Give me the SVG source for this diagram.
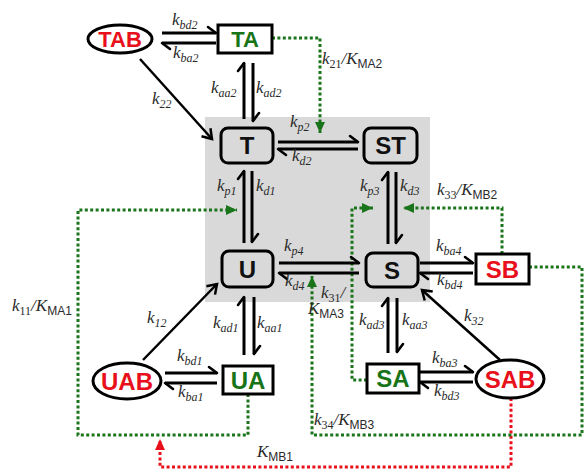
<svg xmlns="http://www.w3.org/2000/svg" width="584" height="472" viewBox="0 0 584 472">
<style>
.nb{fill:#fff;stroke:#000;stroke-width:3}
.gb{fill:#d9d9d9;stroke:#000;stroke-width:3}
.nt{font-family:"Liberation Sans",Arial,sans-serif;font-weight:bold;font-size:24px;text-anchor:middle}
.blk{fill:#111}
.red{fill:#e8101a}
.grn{fill:#177417}
.hp{fill:none;stroke:#000;stroke-width:3;marker-end:url(#harp)}
.ar{fill:none;stroke:#000;stroke-width:2.5;marker-end:url(#open)}
.dg{fill:none;stroke:#1a741a;stroke-width:3;stroke-dasharray:3 2.4;marker-end:url(#tg)}
.dr{fill:none;stroke:#e8101a;stroke-width:3;stroke-dasharray:3 2.4;marker-end:url(#tr)}
.lb{font-family:"Liberation Serif","Times New Roman",serif;font-style:italic;font-size:17px;fill:#2a2a2a}
.sb{font-size:12px}
.up{font-style:normal}
.ss{font-family:"Liberation Sans",Arial,sans-serif;font-style:normal;font-size:12px}
</style>
<defs>
<marker id="harp" markerUnits="userSpaceOnUse" viewBox="0 0 14 14" markerWidth="14" markerHeight="14" refX="11" refY="9" orient="auto">
<path d="M11,9 L3,3" fill="none" stroke="#000" stroke-width="2.6" stroke-linecap="round"/>
</marker>
<marker id="open" markerUnits="userSpaceOnUse" viewBox="0 0 16 16" markerWidth="16" markerHeight="16" refX="12" refY="8" orient="auto">
<path d="M3,2 L12,8 L3,14" fill="none" stroke="#000" stroke-width="2.5" stroke-linejoin="miter"/>
</marker>
<marker id="tg" markerUnits="userSpaceOnUse" viewBox="0 0 12 12" markerWidth="12" markerHeight="12" refX="11" refY="6" orient="auto">
<path d="M11,6 L0,1 L0,11 Z" fill="#1a741a"/>
</marker>
<marker id="tr" markerUnits="userSpaceOnUse" viewBox="0 0 12 12" markerWidth="12" markerHeight="12" refX="11" refY="6" orient="auto">
<path d="M11,6 L0,1 L0,11 Z" fill="#e8101a"/>
</marker>
</defs>

<rect id="region" x="205" y="117" width="225" height="185" fill="#d9d9d9"/>

<g id="connectors">
<path class="dg" d="M272,38 H320 V133"/>
<path class="dg" d="M248,394 V435 H78 V210 H237"/>
<path class="dr" d="M511,398 V467 H160 V439"/>
<path class="dg" d="M502,254 V208 H403"/>
<path class="dg" d="M367,380 H352 V208 H373"/>
<path class="dg" d="M529,267 H582 V435 H312 V276"/>
<path class="hp" d="M162,33 H216"/>
<path class="hp" d="M216,43 H162"/>
<path class="hp" d="M244,119 V63"/>
<path class="hp" d="M253,63 V121"/>
<path class="hp" d="M278,142 H358"/>
<path class="hp" d="M358,149 H278"/>
<path class="hp" d="M244,243 V171"/>
<path class="hp" d="M252,171 V242"/>
<path class="hp" d="M388,244 V172"/>
<path class="hp" d="M396,172 V243"/>
<path class="hp" d="M279,263 H359"/>
<path class="hp" d="M359,273 H279"/>
<path class="hp" d="M420,263 H473"/>
<path class="hp" d="M473,273 H420"/>
<path class="hp" d="M244,355 V297"/>
<path class="hp" d="M254,297 V354"/>
<path class="hp" d="M165,373 H217"/>
<path class="hp" d="M217,383 H165"/>
<path class="hp" d="M388,353 V298"/>
<path class="hp" d="M397,298 V352"/>
<path class="hp" d="M420,372 H473"/>
<path class="hp" d="M473,382 H420"/>
<path class="ar" d="M140,59 L212,139"/>
<path class="ar" d="M143,360 L217,284"/>
<path class="ar" d="M500,360 L422,290"/>
</g>

<g id="labels">
<text class="lb" x="172" y="25">k<tspan class="sb" dy="4">bd2</tspan></text>
<text class="lb" x="173" y="58">k<tspan class="sb" dy="4">ba2</tspan></text>
<text class="lb" x="152" y="104">k<tspan class="sb" dy="4">22</tspan></text>
<text class="lb" x="211" y="93">k<tspan class="sb" dy="4">aa2</tspan></text>
<text class="lb" x="256" y="93">k<tspan class="sb" dy="4">ad2</tspan></text>
<text class="lb" x="322" y="64">k<tspan class="sb up" dy="4">21</tspan><tspan dy="-4">/K</tspan><tspan class="ss" dy="4">MA2</tspan></text>
<text class="lb" x="290" y="127">k<tspan class="sb" dy="4">p2</tspan></text>
<text class="lb" x="292" y="161">k<tspan class="sb" dy="4">d2</tspan></text>
<text class="lb" x="217" y="191">k<tspan class="sb" dy="4">p1</tspan></text>
<text class="lb" x="256" y="191">k<tspan class="sb" dy="4">d1</tspan></text>
<text class="lb" x="360" y="191">k<tspan class="sb" dy="4">p3</tspan></text>
<text class="lb" x="400" y="191">k<tspan class="sb" dy="4">d3</tspan></text>
<text class="lb" x="437" y="195">k<tspan class="sb up" dy="4">33</tspan><tspan dy="-4">/K</tspan><tspan class="ss" dy="4">MB2</tspan></text>
<text class="lb" x="284" y="251">k<tspan class="sb" dy="4">p4</tspan></text>
<text class="lb" x="285" y="286">k<tspan class="sb" dy="4">d4</tspan></text>
<text class="lb" x="321" y="298">k<tspan class="sb up" dy="4">31</tspan><tspan dy="-4">/</tspan></text>
<text class="lb" x="308" y="314">K<tspan class="ss" dy="4">MA3</tspan></text>
<text class="lb" x="436" y="251">k<tspan class="sb" dy="4">ba4</tspan></text>
<text class="lb" x="437" y="285">k<tspan class="sb" dy="4">bd4</tspan></text>
<text class="lb" x="464" y="321">k<tspan class="sb" dy="4">32</tspan></text>
<text class="lb" x="12" y="311">k<tspan class="sb up" dy="4">11</tspan><tspan dy="-4">/K</tspan><tspan class="ss" dy="4">MA1</tspan></text>
<text class="lb" x="147" y="323">k<tspan class="sb" dy="4">12</tspan></text>
<text class="lb" x="213" y="328">k<tspan class="sb" dy="4">ad1</tspan></text>
<text class="lb" x="257" y="328">k<tspan class="sb" dy="4">aa1</tspan></text>
<text class="lb" x="177" y="361">k<tspan class="sb" dy="4">bd1</tspan></text>
<text class="lb" x="178" y="397">k<tspan class="sb" dy="4">ba1</tspan></text>
<text class="lb" x="257" y="457">K<tspan class="ss" dy="4">MB1</tspan></text>
<text class="lb" x="359" y="325">k<tspan class="sb" dy="4">ad3</tspan></text>
<text class="lb" x="402" y="325">k<tspan class="sb" dy="4">aa3</tspan></text>
<text class="lb" x="432" y="363">k<tspan class="sb" dy="4">ba3</tspan></text>
<text class="lb" x="434" y="396">k<tspan class="sb" dy="4">bd3</tspan></text>
<text class="lb" x="314" y="425">k<tspan class="sb up" dy="4">34</tspan><tspan dy="-4">/K</tspan><tspan class="ss" dy="4">MB3</tspan></text>
</g>

<g id="TAB"><ellipse class="nb" cx="120" cy="39" rx="32" ry="14"/><text class="nt red" x="120" y="47" style="font-size:22px">TAB</text></g>
<g id="TA"><rect class="nb" x="218" y="25" width="54" height="28"/><text class="nt grn" x="245" y="47" style="font-size:22px">TA</text></g>
<g id="T"><rect class="gb" x="221" y="128" width="52" height="35" rx="7"/><text class="nt blk" x="247" y="154">T</text></g>
<g id="ST"><rect class="gb" x="364" y="128" width="53" height="35" rx="7"/><text class="nt blk" x="390.5" y="154">ST</text></g>
<g id="U"><rect class="gb" x="222" y="251" width="51" height="36" rx="7"/><text class="nt blk" x="247.5" y="277.5">U</text></g>
<g id="S"><rect class="gb" x="366" y="253" width="52" height="34" rx="7"/><text class="nt blk" x="392" y="278.5">S</text></g>
<g id="SB"><rect class="nb" x="476" y="254" width="53" height="30"/><text class="nt red" x="502.5" y="277.5">SB</text></g>
<g id="UAB"><ellipse class="nb" cx="127" cy="381" rx="34" ry="18"/><text class="nt red" x="127" y="389.5">UAB</text></g>
<g id="UA"><rect class="nb" x="223" y="366" width="50" height="28"/><text class="nt grn" x="248" y="388.5">UA</text></g>
<g id="SA"><rect class="nb" x="367" y="364" width="52" height="29"/><text class="nt grn" x="393" y="387">SA</text></g>
<g id="SAB"><ellipse class="nb" cx="510" cy="379" rx="34" ry="19"/><text class="nt red" x="510" y="387.5">SAB</text></g>
</svg>
